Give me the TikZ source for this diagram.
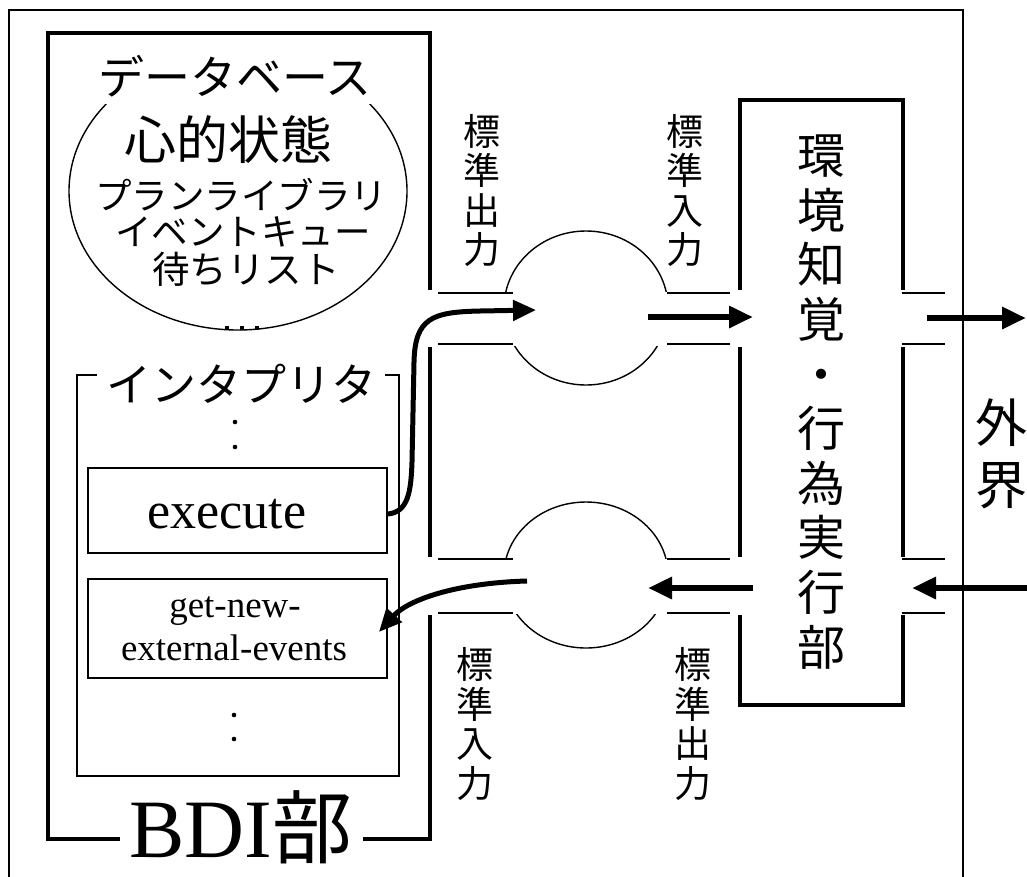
\documentclass[tikz,border=0pt]{standalone}
\usepackage{fontspec}
\setmainfont{Liberation Serif}
\newfontfamily\jp{Noto Sans CJK JP}
\usetikzlibrary{arrows.meta}
\begin{document}
\begin{tikzpicture}[x=1pt,y=-1pt,
  frame/.style={line width=1.5pt},
  heavy/.style={line width=3.8pt},
  thinln/.style={line width=1.6pt},
  box/.style={draw, line width=1.8pt, inner sep=0pt},
  flow/.style={line width=6.5pt, -{Triangle[length=24pt,width=21pt]}},
  cflow/.style={line width=5pt, -{Triangle[length=23pt,width=20pt]}},
  jl/.style={font=\jp\fontsize{#1}{#1}\selectfont, inner sep=0pt},
  vlab/.style={font=\jp\fontsize{37}{39.5}\selectfont, align=center, inner sep=0pt},
]
\useasboundingbox (0,0) rectangle (1027,876);

% outer frame
\draw[frame] (9,880) -- (9,10) -- (963,10) -- (963,880);

% BDI frame
\draw[heavy] (120,839) -- (48,839) -- (48,33) -- (430,33) -- (430,290);
\draw[heavy] (430,347) -- (430,557);
\draw[heavy] (430,615) -- (430,839) -- (363,839);
\node[anchor=base, inner sep=0pt] (bdi) at (241,857) {\fontsize{83}{83}\selectfont BDI{\jp\fontsize{80}{80}\selectfont 部}};

% database ellipse
\draw[line width=1.4pt] (238,191) ellipse [x radius=169pt, y radius=139pt];
\node[jl=46, fill=white, minimum height=56pt, minimum width=276pt] (db) at (235,76) {データベース};
\node[jl=52] (mind) at (228,140) {心的状態};
\node[jl=36.5] (plan) at (241,195) {プランライブラリ};
\node[jl=36.5] (evq) at (243,232) {イベントキュー};
\node[jl=37.5] (wait) at (246,269) {待ちリスト};
\fill (225,326) rectangle (229,330);
\fill (240,326) rectangle (244,330);
\fill (255,326) rectangle (259,330);

% interpreter
\draw[box] (97,375) -- (77,375) -- (77,776) -- (399,776) -- (399,375) -- (385,375);
\node[jl=45] (interp) at (241,384) {インタプリタ};
\fill (235,422) circle (2.3pt);
\fill (235,447) circle (2.3pt);
\fill (234,715) circle (2.3pt);
\fill (234,739) circle (2.3pt);

\node[box, minimum width=299pt, minimum height=85pt] (exec) at (237.5,510.5) {};
\node[anchor=base, inner sep=0pt, font=\fontsize{52}{52}\selectfont] (exect) at (227,528) {execute};
\node[box, minimum width=299pt, minimum height=99pt] (gn) at (237.5,628.5) {};
\node[anchor=base, inner sep=0pt, font=\fontsize{37}{37}\selectfont] (gn1) at (235,617) {get-new-};
\node[anchor=base, inner sep=0pt, font=\fontsize{37}{37}\selectfont] (gn2) at (234,660) {external-events};

% environment box
\draw[heavy] (740,290) -- (740,100) -- (903,100) -- (903,290);
\draw[heavy] (740,347) -- (740,557);
\draw[heavy] (903,347) -- (903,557);
\draw[heavy] (740,615) -- (740,705) -- (903,705) -- (903,615);
\node[font=\jp\fontsize{48}{54.6}\selectfont, align=center, inner sep=0pt] (env) at (821,402)
  {環\\境\\知\\覚\\・\\行\\為\\実\\行\\部};

% channels
\foreach \ya/\yb in {293/344, 559/613} {
  \draw[thinln] (438,\ya) -- (513,\ya);
  \draw[thinln] (438,\yb) -- (513,\yb);
  \draw[thinln] (667,\ya) -- (730,\ya);
  \draw[thinln] (667,\yb) -- (730,\yb);
  \draw[thinln] (902,\ya) -- (945,\ya);
  \draw[thinln] (902,\yb) -- (945,\yb);
}
\begin{scope}
  \clip (450,150) rectangle (720,291);
  \draw[line width=1.4pt] (586,308) ellipse [x radius=82pt, y radius=77pt];
\end{scope}
\begin{scope}
  \clip (450,346) rectangle (720,450);
  \draw[line width=1.4pt] (586,308) ellipse [x radius=82pt, y radius=77pt];
\end{scope}
\begin{scope}
  \clip (450,450) rectangle (720,558);
  \draw[line width=1.4pt] (586,575) ellipse [x radius=82pt, y radius=73pt];
\end{scope}
\begin{scope}
  \clip (450,614) rectangle (720,700);
  \draw[line width=1.4pt] (586,575) ellipse [x radius=82pt, y radius=73pt];
\end{scope}

% channel labels
\node[vlab] (so1) at (482,190.5) {標\\準\\出\\力};
\node[vlab] (si1) at (685,190.5) {標\\準\\入\\力};
\node[vlab] (si2) at (475,724) {標\\準\\入\\力};
\node[vlab] (so2) at (693,724) {標\\準\\出\\力};

\node[font=\jp\fontsize{52}{62}\selectfont, align=center, inner sep=0pt] (world) at (1001,454) {外\\界};

% arrow end points
\coordinate (outtip) at (536,310);
\coordinate (a2s) at (648,317);
\coordinate (a2e) at (753,317);
\coordinate (a3s) at (927,318);
\coordinate (a3e) at (1026,318);
\coordinate (b3s) at (1035,588);
\coordinate (b3e) at (912,588);
\coordinate (b2s) at (753,588);
\coordinate (b2e) at (648,588);
\coordinate (intail) at (527,581);

% arrows
\draw[cflow] ([yshift=-3.5pt]exec.east) .. controls (408,512) and (411,492) .. (412,462)
  -- (414,362) .. controls (415,318) and (432,312) .. (480,311) -- (outtip);
\draw[flow] (a2s) -- (a2e);
\draw[flow] (a3s) -- (a3e);
\draw[flow] (b3s) -- (b3e);
\draw[flow] (b2s) -- (b2e);
\draw[cflow] (intail) .. controls (455,583) and (408,600) .. ([xshift=-9pt,yshift=-3.5pt]gn.east);
\end{tikzpicture}
\end{document}
